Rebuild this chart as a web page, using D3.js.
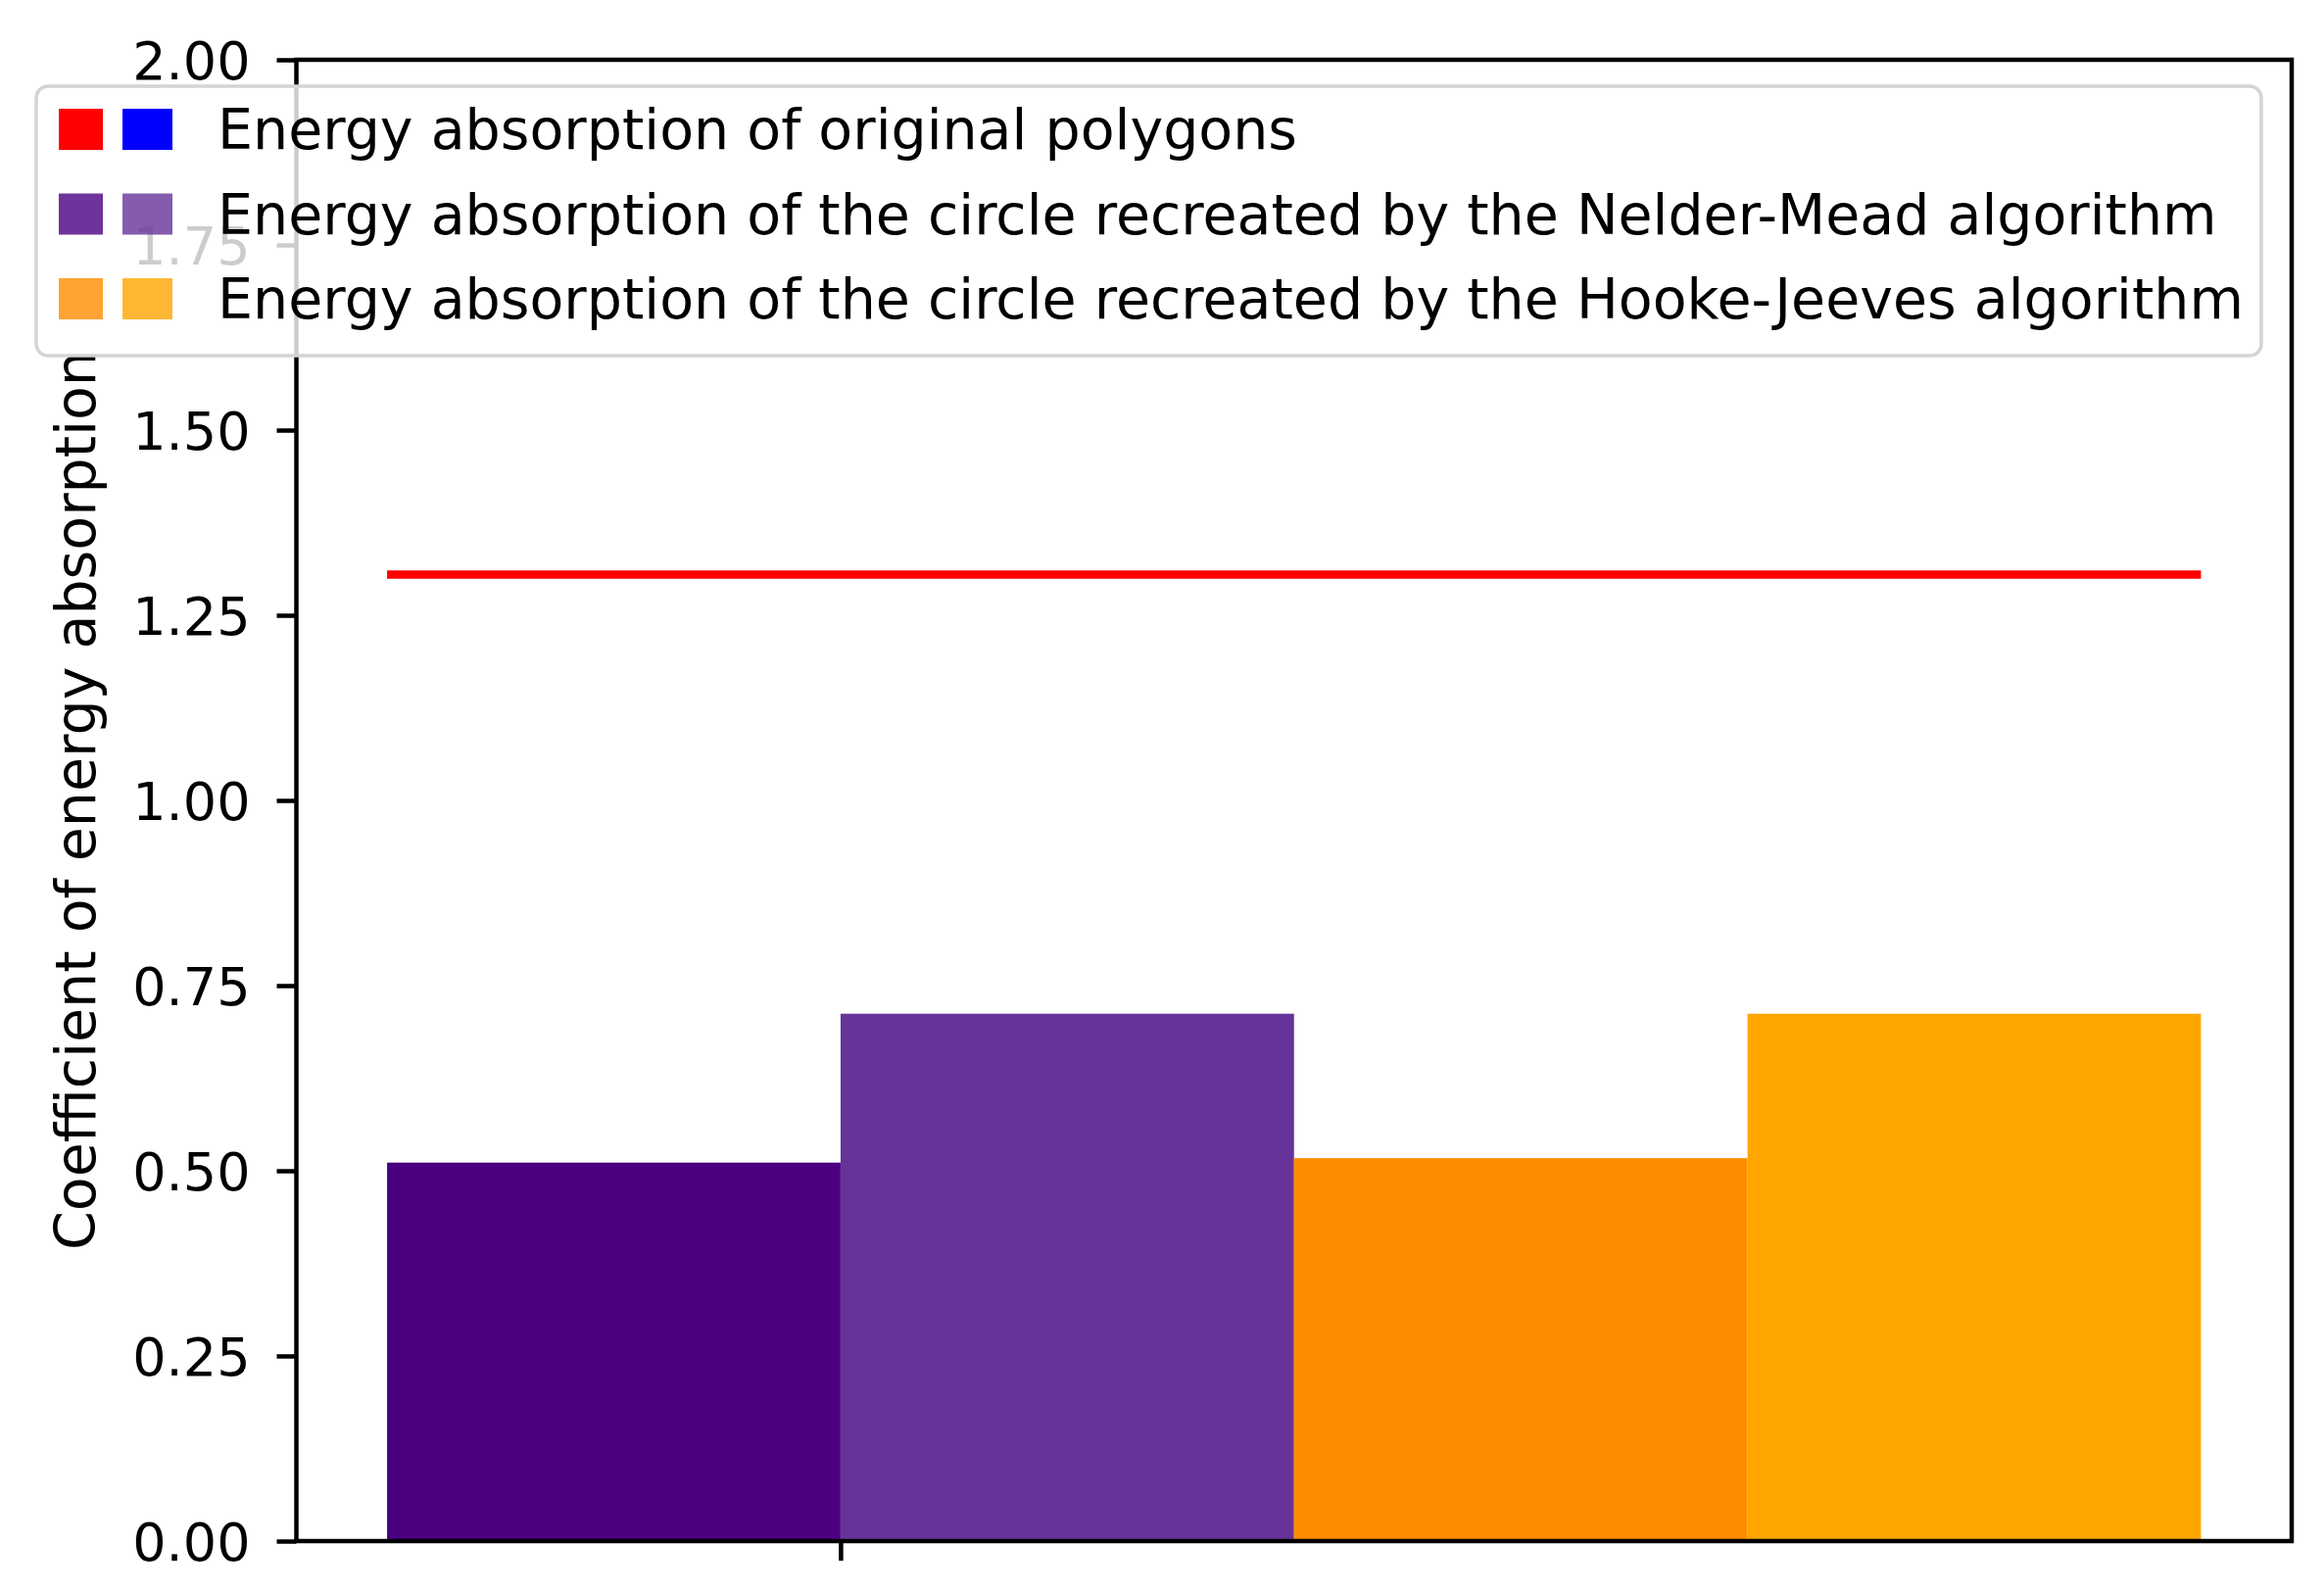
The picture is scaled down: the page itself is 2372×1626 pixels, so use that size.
<!DOCTYPE html>
<html>
<head>
<title>Energy absorption</title>
<meta charset="utf-8">
<style type="text/css">
body {
	margin: 0;
	background: #fff;
}
text {
	font-family: "DejaVu Sans", sans-serif;
	fill: #000;
}
</style>
<script src="https://cdn.jsdelivr.net/npm/d3@7"></script>
</head>
<body>
</body>
<script type="text/javascript">
var width = 2372;
var height = 1626;

// data
var barNames = ["Nelder-Mead polygon", "Nelder-Mead circle", "Hooke-Jeeves polygon", "Hooke-Jeeves circle"];
var barValues = [0.511, 0.712, 0.517, 0.712];
var originalValue = 1.305;
var yTicks = [0, 0.25, 0.5, 0.75, 1.0, 1.25, 1.5, 1.75, 2.0];
var xTicks = [1];
var yLabel = "Coefficient of energy absorption";
var legendLabels = [
	"Energy absorption of original polygons",
	"Energy absorption of the circle recreated by the Nelder-Mead algorithm",
	"Energy absorption of the circle recreated by the Hooke-Jeeves algorithm"
];

var barColor = d3.scaleOrdinal()
	.domain(barNames)
	.range(["#4b0082", "#663399", "#ff8c00", "#ffa500"]);
var legendColors = [["#ff0000", "#0000ff"], ["#4b0082", "#663399"], ["#ff8c00", "#ffa500"]];
var legendAlpha = [1, 0.8, 0.8];

var plot = {left: 302.5, right: 2339, top: 61, bottom: 1573};

var svg = d3.select("body").append("svg")
	.attr("width", width)
	.attr("height", height);

svg.append("rect")
	.attr("width", width)
	.attr("height", height)
	.attr("fill", "#fff");

var x = d3.scaleLinear()
	.domain([-0.2, barNames.length + 0.2])
	.range([plot.left, plot.right]);
var y = d3.scaleLinear()
	.domain([0, 2])
	.range([plot.bottom, plot.top]);

// bars
svg.append("g").selectAll("rect")
	.data(barValues)
	.enter().append("rect")
	.attr("x", function(d, i){ return x(i); })
	.attr("y", function(d){ return y(d); })
	.attr("width", function(d, i){ return x(i + 1) - x(i); })
	.attr("height", function(d){ return y(0) - y(d); })
	.attr("fill", function(d, i){ return barColor(barNames[i]); });

// level of the original polygons
svg.append("line")
	.attr("x1", x(0))
	.attr("x2", x(barNames.length))
	.attr("y1", y(originalValue))
	.attr("y2", y(originalValue))
	.attr("stroke", "#ff0000")
	.attr("stroke-width", 8.5);

// axes
var yAxis = svg.append("g")
	.attr("transform", "translate(" + plot.left + ",0)")
	.call(d3.axisLeft(y).tickValues(yTicks).tickFormat(d3.format(".2f"))
		.tickSize(20).tickPadding(27));
var xAxis = svg.append("g")
	.attr("transform", "translate(0," + plot.bottom + ")")
	.call(d3.axisBottom(x).tickValues(xTicks).tickFormat("").tickSize(20));
[yAxis, xAxis].forEach(function(g){
	g.select(".domain").remove();
	g.selectAll("line").attr("stroke", "#000").attr("stroke-width", 4.5);
	g.selectAll("text")
		.attr("fill", "#000")
		.style("font-family", "DejaVu Sans")
		.style("font-size", "54px");
});
yAxis.selectAll("text").attr("dy", "0.36em");

// frame
svg.append("rect")
	.attr("x", plot.left)
	.attr("y", plot.top)
	.attr("width", plot.right - plot.left)
	.attr("height", plot.bottom - plot.top)
	.attr("fill", "none")
	.attr("stroke", "#000")
	.attr("stroke-width", 4.5);

svg.append("text")
	.attr("transform", "translate(97," + (plot.top + plot.bottom) / 2 + ") rotate(-90)")
	.attr("text-anchor", "middle")
	.style("font-size", "57px")
	.text(yLabel);

// legend
var legend = svg.append("g");
legend.append("rect")
	.attr("x", 37)
	.attr("y", 88)
	.attr("width", 2308 - 37)
	.attr("height", 363 - 88)
	.attr("rx", 12)
	.attr("fill", "#fff")
	.attr("fill-opacity", 0.8)
	.attr("stroke", "#d4d4d4")
	.attr("stroke-width", 3.5);

var rows = legend.selectAll("g.row")
	.data(legendLabels)
	.enter().append("g")
	.attr("class", "row")
	.attr("transform", function(d, i){ return "translate(0," + (152 + i * 86.5) + ")"; });
rows.each(function(d, i){
	var row = d3.select(this);
	row.append("rect")
		.attr("x", 60).attr("y", -41).attr("width", 45).attr("height", 42)
		.attr("fill", legendColors[i][0]).attr("fill-opacity", legendAlpha[i]);
	row.append("rect")
		.attr("x", 125).attr("y", -41).attr("width", 51).attr("height", 42)
		.attr("fill", legendColors[i][1]).attr("fill-opacity", legendAlpha[i]);
	row.append("text")
		.attr("x", 222)
		.style("font-size", "57px")
		.text(d);
});
</script>
</html>
